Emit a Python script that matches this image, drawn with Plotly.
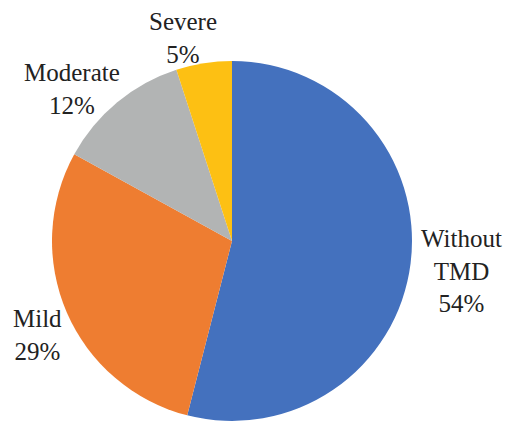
import plotly.graph_objects as go

labels = ["Without TMD", "Mild", "Moderate", "Severe"]
label_text = ["Without<br>TMD", "Mild", "Moderate", "Severe"]
values = [54, 29, 12, 5]
colors = ["#4471BE", "#EE7D31", "#B2B4B4", "#FDC013"]

W, H = 506, 423
# label block centers in pixels (layout only)
label_pos = [(461, 271), (37, 335), (72, 89), (183, 38)]

fig = go.Figure(go.Pie(
    labels=labels,
    values=values,
    sort=False,
    direction="clockwise",
    rotation=0,
    marker=dict(colors=colors, line=dict(width=0)),
    textinfo="none",
    hoverinfo="label+percent",
    domain=dict(x=[52 / W, 412 / W], y=[1 - 421 / H, 1 - 61 / H]),
    showlegend=False,
))

for txt, v, (px, py) in zip(label_text, values, label_pos):
    fig.add_annotation(
        x=px / W, y=1 - py / H, xref="paper", yref="paper",
        text=f"{txt}<br>{v}%", showarrow=False,
        xanchor="center", yanchor="middle", align="center",
        font=dict(family="'Times New Roman', 'Liberation Serif', 'DejaVu Serif', serif", size=25, color="#222222"),
    )

fig.update_layout(
    width=W, height=H,
    margin=dict(l=0, r=0, t=0, b=0),
    paper_bgcolor="white", plot_bgcolor="white",
    font=dict(family="'Liberation Serif', serif"),
)

fig.write_html("out.html")
